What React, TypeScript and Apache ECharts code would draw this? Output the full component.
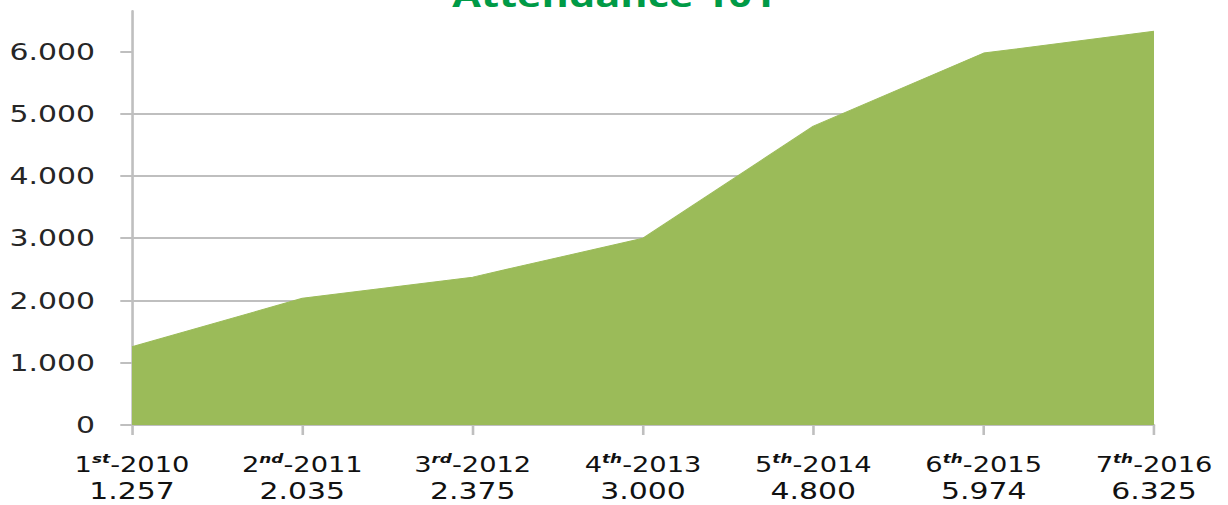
import React, { useEffect, useRef } from "react";
import * as echarts from "echarts";

// ---- data ----
const ordinals = ["1", "2", "3", "4", "5", "6", "7"];
const ordinalSuffixes = ["st", "nd", "rd", "th", "th", "th", "th"];
const years = ["2010", "2011", "2012", "2013", "2014", "2015", "2016"];
const attendance = [1257, 2035, 2375, 3000, 4800, 5974, 6325];
const yTickValues = [0, 1000, 2000, 3000, 4000, 5000, 6000];
const yMax = 6650;
const titleText = "Attendance 101";

const categories = ordinals.map((o, i) => `${o}${ordinalSuffixes[i]}-${years[i]}`);

// horizontal stretch of the picture (the reference looks widened)
const PAGE_W = 1228;
const PAGE_H = 505;
const INNER_W = 945;
const S = PAGE_W / INNER_W;

function fmt(n: number): string {
  return String(Math.round(n)).replace(/\B(?=(\d{3})+(?!\d))/g, ".");
}

export default function App() {
  const ref = useRef<HTMLDivElement>(null);

  useEffect(() => {
    if (!ref.current) return;
    const chart = echarts.init(ref.current, undefined, { renderer: "svg" });
    const gray = "#BFBFBF";
    chart.setOption({
      animation: false,
      backgroundColor: "#ffffff",
      title: {
        text: titleText,
        left: "center",
        top: -27,
        textStyle: {
          color: "#009A46",
          fontSize: 32,
          fontWeight: "bold",
          fontFamily: "Open Sans",
        },
      },
      grid: {
        left: 132 / S,
        right: (PAGE_W - 1154) / S,
        top: 11,
        bottom: 80,
      },
      xAxis: {
        type: "category",
        data: categories,
        boundaryGap: false,
        axisLine: { show: true, lineStyle: { color: gray, width: 2 } },
        axisTick: { show: true, length: 10, lineStyle: { color: gray, width: 2 } },
        axisLabel: {
          interval: 0,
          margin: 27.5,
          color: "#111111",
          fontFamily: "DejaVu Sans",
          formatter: (_v: string, idx: number) =>
            `{n|${ordinals[idx]}}{s|${ordinalSuffixes[idx]}}{y|-${years[idx]}}\n{v|${fmt(attendance[idx])}}`,
          rich: {
            n: { fontSize: 21, lineHeight: 25, fontFamily: "DejaVu Sans", color: "#111111" },
            s: {
              fontSize: 13,
              fontStyle: "italic",
              fontWeight: "bold",
              fontFamily: "DejaVu Sans",
              color: "#111111",
              verticalAlign: "top",
              lineHeight: 25,
              padding: [0, 0, 7, 0],
            },
            y: { fontSize: 21, lineHeight: 25, fontFamily: "DejaVu Sans", color: "#111111" },
            v: { fontSize: 23, lineHeight: 27, fontFamily: "DejaVu Sans", color: "#111111" },
          },
        },
        splitLine: { show: false },
      },
      yAxis: {
        type: "value",
        min: 0,
        max: yMax,
        axisLine: { show: true, lineStyle: { color: gray, width: 2 } },
        axisTick: {
          show: true,
          length: 9,
          customValues: yTickValues,
          lineStyle: { color: gray, width: 2 },
        },
        axisLabel: {
          customValues: yTickValues,
          margin: 28.5,
          fontSize: 23,
          color: "#262626",
          fontFamily: "DejaVu Sans",
          formatter: (v: number) => fmt(v),
        },
        splitLine: {
          show: true,
          showMaxLine: false,
          lineStyle: { color: gray, width: 2 },
        },
      },
      series: [
        {
          type: "line",
          data: attendance,
          symbol: "none",
          lineStyle: { color: "#9BBB59", width: 1 },
          areaStyle: { color: "#9BBB59", opacity: 1 },
          z: 3,
        },
      ],
    });
    return () => chart.dispose();
  }, []);

  return (
    <div
      style={{
        position: "fixed",
        left: 0,
        top: 0,
        width: PAGE_W,
        height: PAGE_H,
        overflow: "hidden",
        background: "#ffffff",
      }}
    >
      <div
        ref={ref}
        style={{
          width: INNER_W,
          height: PAGE_H,
          transform: `scaleX(${S})`,
          transformOrigin: "0 0",
        }}
      />
    </div>
  );
}
